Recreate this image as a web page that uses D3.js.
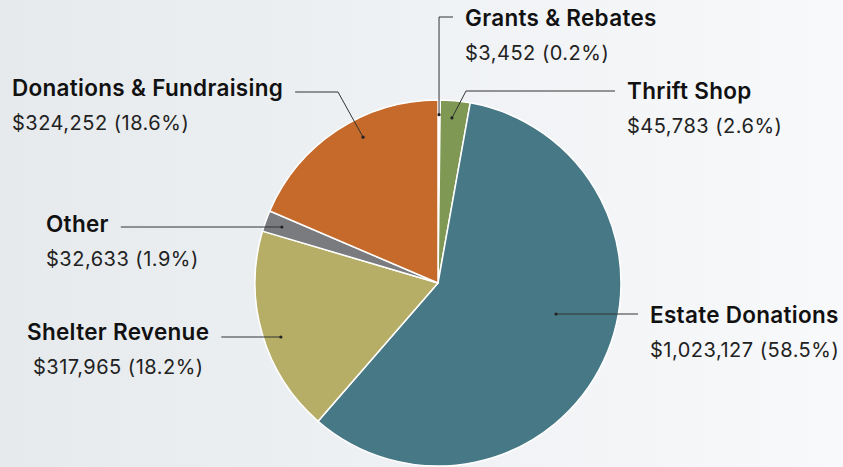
<!DOCTYPE html>
<html>
<head>
<meta charset="utf-8">
<script src="https://cdn.jsdelivr.net/npm/d3@7"></script>
<style>
  html,body{margin:0;padding:0;}
  body{width:843px;height:467px;overflow:hidden;}
  svg{display:block;font-family:Inter,sans-serif;}
</style>
</head>
<body>
<div id="chart"></div>
<script>
// Revenue by source
const categories = ['Grants & Rebates','Thrift Shop','Estate Donations','Shelter Revenue','Other','Donations & Fundraising'];
const values = [3452, 45783, 1023127, 317965, 32633, 324252];
const valueLabels = ['$3,452 (0.2%)','$45,783 (2.6%)','$1,023,127 (58.5%)','$317,965 (18.2%)','$32,633 (1.9%)','$324,252 (18.6%)'];
const colors = ['#f2f3f4','#7f9955','#477885','#b6ae66','#7a7b7e','#c66a2b'];

(function() {
  const W = 843, H = 467;
  const cx = 438, cy = 283, R = 183;

  // label layout: left edge x, title baseline y, leader line y, side, elbow x (null = straight)
  const lab = [
    {x:465, y:26,  ly:17,  side:'r', elbow:'v'},
    {x:627, y:99,  ly:91,  side:'r', elbow:466},
    {x:650, y:323, ly:314, side:'r', elbow:null},
    {x:27,  y:340, ly:337, side:'l', elbow:null},
    {x:46,  y:232, ly:227, side:'l', elbow:null},
    {x:12,  y:96,  ly:92,  side:'l', elbow:338}
  ];
  // where the leader touches the slice (angle shift in degrees, radius fraction)
  const angShift = [0, -0.6, -10.8, -2.5, 0, 6.2];
  const radFrac = [0.92, 0.905, 0.667, 0.907, 0.907, 0.896];

  const svg = d3.select('#chart').append('svg').attr('width',W).attr('height',H);
  const defs = svg.append('defs');
  const gr = defs.append('linearGradient').attr('id','bg').attr('x1','0').attr('x2','1').attr('y1','0').attr('y2','0');
  gr.append('stop').attr('offset','0').attr('stop-color','#e6eaed');
  gr.append('stop').attr('offset','1').attr('stop-color','#f8f9fb');
  svg.append('rect').attr('width',W).attr('height',H).attr('fill','url(#bg)');

  const data = categories.map((c,i)=>({cat:c, value:values[i], label:valueLabels[i], color:colors[i], i}));
  const pie = d3.pie().sort(null).value(d=>d.value);
  const arcs = pie(data);
  const arc = d3.arc().innerRadius(0).outerRadius(R);

  const g = svg.append('g').attr('transform',`translate(${cx},${cy})`);
  g.selectAll('path').data(arcs).join('path')
    .attr('d',arc).attr('fill',d=>d.data.color)
    .attr('stroke','#fff').attr('stroke-width',1.5).attr('stroke-linejoin','round');

  const lg = svg.append('g');
  arcs.forEach((a,i)=>{
    const L = lab[i];
    const t = svg.append('text').attr('x',L.x).attr('y',L.y)
      .style('font-size','22.5px').style('font-weight','600').style('fill','#111')
      .style('letter-spacing','0.3px')
      .text(a.data.cat);
    svg.append('text').attr('x',L.x + (i===3 ? 6 : 0)).attr('y',L.y+34)
      .style('font-size','20px').style('font-weight','400').style('fill','#222')
      .style('letter-spacing','0.5px')
      .text(a.data.label);

    const mid = (a.startAngle + a.endAngle)/2 + angShift[i]*Math.PI/180;
    const rr = R*radFrac[i];
    const p = [cx + Math.sin(mid)*rr, cy - Math.cos(mid)*rr];
    const tw = t.node().getComputedTextLength();
    const end = L.side==='r' ? L.x - 12 : L.x + tw + 12;
    let pts;
    if (L.elbow==='v') pts = [p, [p[0], L.ly], [end, L.ly]];
    else if (L.elbow!=null) pts = [p, [L.elbow, L.ly], [end, L.ly]];
    else pts = [[p[0], L.ly], [end, L.ly]];
    lg.append('path').attr('d', d3.line()(pts))
      .attr('fill','none').attr('stroke','#333').attr('stroke-width',1);
    lg.append('circle').attr('cx',pts[0][0]).attr('cy',pts[0][1]).attr('r',1.6).attr('fill','#222');
  });
})();
</script>
</body>
</html>
